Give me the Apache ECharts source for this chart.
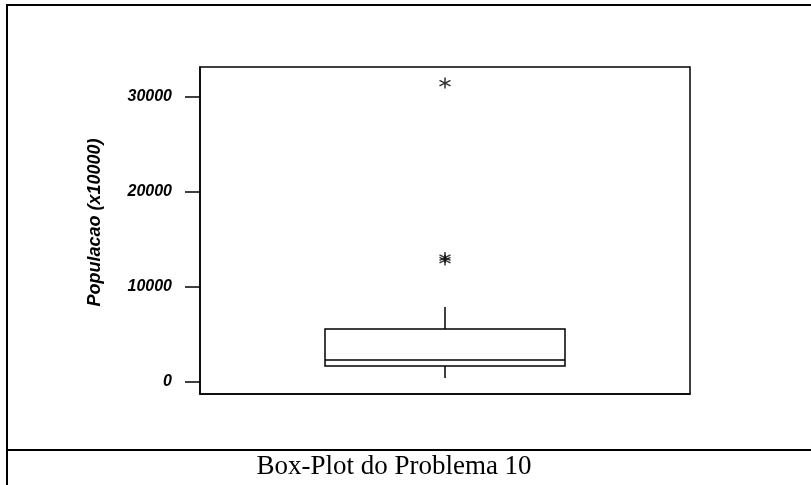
<!DOCTYPE html>
<html>
<head>
<meta charset="utf-8">
<script src="https://cdn.jsdelivr.net/npm/echarts@6/dist/echarts.min.js"></script>
<style>
  html, body { margin: 0; padding: 0; background: #fff; }
  #main { width: 811px; height: 485px; }
</style>
</head>
<body>
<div id="main"></div>
<script>
// dados
var categorias = ['Populacao'];
// [min, Q1, mediana, Q3, max]
var caixa = [[420, 1680, 2320, 5580, 7900]];
var outliers = [12840, 13100, 31470];
var ticks = [0, 10000, 20000, 30000];

var myChart = echarts.init(document.getElementById('main'));

// asterisco para os outliers
var asterisco = 'path://M0,-1L0,1M-0.87,-0.5L0.87,0.5M-0.87,0.5L0.87,-0.5';

// caixa sem traços nas pontas dos bigodes
var desenhaCaixa = function (params, api) {
  var x = api.value(0);
  var pMin = api.coord([x, api.value(1)]);
  var pQ1 = api.coord([x, api.value(2)]);
  var pMed = api.coord([x, api.value(3)]);
  var pQ3 = api.coord([x, api.value(4)]);
  var pMax = api.coord([x, api.value(5)]);
  var half = 120;
  var cx = pMed[0];
  var st = { stroke: '#000', lineWidth: 1.5, fill: 'none' };
  return {
    type: 'group',
    children: [
      { type: 'line', shape: { x1: cx, y1: pMax[1], x2: cx, y2: pQ3[1] }, style: st },
      { type: 'line', shape: { x1: cx, y1: pQ1[1], x2: cx, y2: pMin[1] }, style: st },
      { type: 'rect', shape: { x: cx - half, y: pQ3[1], width: half * 2, height: pQ1[1] - pQ3[1] }, style: { stroke: '#000', lineWidth: 1.5, fill: '#fff' } },
      { type: 'line', shape: { x1: cx - half, y1: pMed[1], x2: cx + half, y2: pMed[1] }, style: st }
    ]
  };
};

var option = {
  animation: false,
  backgroundColor: '#fff',
  grid: {
    left: 200, right: 121, top: 67, bottom: 91,
    show: true, borderColor: '#000', borderWidth: 1.5
  },
  xAxis: {
    type: 'category',
    data: categorias,
    axisLine: { show: true, onZero: false, lineStyle: { color: '#000', width: 1.5 } },
    axisTick: { show: false },
    axisLabel: { show: false },
    splitLine: { show: false }
  },
  yAxis: {
    type: 'value',
    min: -1260,
    max: 33160,
    name: 'Populacao (x10000)',
    nameLocation: 'middle',
    nameGap: 96,
    nameTextStyle: {
      fontFamily: 'Liberation Sans, Arial',
      fontStyle: 'italic', fontWeight: 'bold', fontSize: 18, color: '#000',
      padding: [0, 0, 0, 16]
    },
    axisLine: { show: true, lineStyle: { color: '#000', width: 1.5 } },
    axisTick: { show: true, length: 15, customValues: ticks, lineStyle: { color: '#000', width: 1.5 } },
    axisLabel: {
      customValues: ticks,
      margin: 28,
      formatter: function (v) { return String(v); },
      fontFamily: 'Liberation Sans, Arial',
      fontStyle: 'italic', fontWeight: 'bold', fontSize: 16, color: '#000'
    },
    splitLine: { show: false }
  },
  series: [
    {
      type: 'custom',
      renderItem: desenhaCaixa,
      data: caixa.map(function (d, i) { return [i].concat(d); }),
      encode: { x: 0, y: [1, 2, 3, 4, 5] }
    },
    {
      type: 'scatter',
      data: outliers.map(function (v) { return [0, v]; }),
      symbol: asterisco,
      symbolSize: 11,
      itemStyle: { color: 'none', borderColor: '#000', borderWidth: 1.5 }
    }
  ],
  graphic: [
    {
      type: 'rect',
      shape: { x: 7, y: 5, width: 820, height: 500 },
      style: { fill: 'none', stroke: '#000', lineWidth: 2 },
      silent: true
    },
    {
      type: 'line',
      shape: { x1: 7, y1: 450, x2: 811, y2: 450 },
      style: { stroke: '#000', lineWidth: 2 },
      silent: true
    },
    {
      type: 'text',
      x: 394, y: 467,
      style: {
        text: 'Box-Plot do Problema 10',
        fontFamily: 'Liberation Serif, Times New Roman',
        fontSize: 27, fill: '#000',
        textAlign: 'center', textVerticalAlign: 'middle'
      }
    }
  ]
};

myChart.setOption(option);
</script>
</body>
</html>
